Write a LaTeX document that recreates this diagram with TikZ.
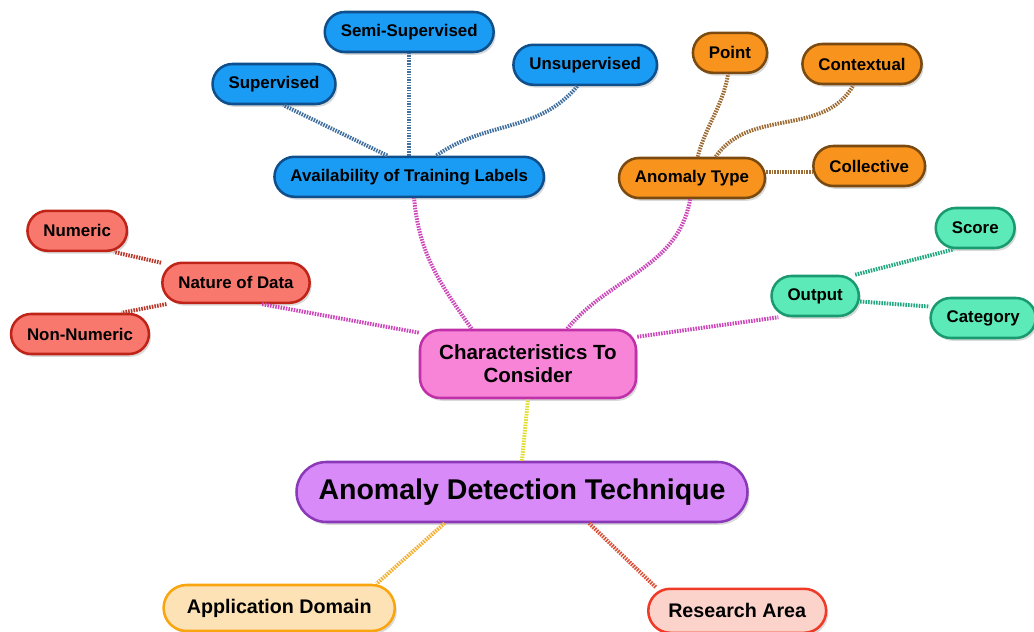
\documentclass[tikz,border=0pt]{standalone}
\usepackage{fontspec}
\setmainfont{Liberation Sans}
\usepackage{xcolor}
\usepackage{tikz}
\usetikzlibrary{shadows}

\definecolor{bluefill}{HTML}{1A9CF5}
\definecolor{blueline}{HTML}{0E4F8C}
\definecolor{bluelink}{HTML}{41709F}
\definecolor{orangefill}{HTML}{F8941D}
\definecolor{orangeline}{HTML}{7A4A10}
\definecolor{orangelink}{HTML}{9C6C34}
\definecolor{redfill}{HTML}{F8786E}
\definecolor{redline}{HTML}{C02418}
\definecolor{redlink}{HTML}{B8382A}
\definecolor{tealfill}{HTML}{5CEAB8}
\definecolor{tealline}{HTML}{1A9A70}
\definecolor{teallink}{HTML}{22A880}
\definecolor{pinkfill}{HTML}{F884D8}
\definecolor{pinkline}{HTML}{C030A8}
\definecolor{pinklink}{HTML}{CC48BA}
\definecolor{purplefill}{HTML}{D78AF8}
\definecolor{purpleline}{HTML}{8A3AB8}
\definecolor{appfill}{HTML}{FDE2B5}
\definecolor{appline}{HTML}{F8A510}
\definecolor{applink}{HTML}{F4B030}
\definecolor{resfill}{HTML}{FCD3CB}
\definecolor{resline}{HTML}{F03A28}
\definecolor{reslink}{HTML}{DC5038}
\definecolor{yellowlink}{HTML}{E2DC2A}

\begin{document}
\begin{tikzpicture}[font=\bfseries\fontsize{12}{14}\selectfont,
  pill/.style={draw, line width=1.8pt, rounded corners=0.5cm, minimum height=1cm,
    inner xsep=0.4cm, drop shadow={shadow xshift=0.05cm, shadow yshift=-0.07cm, opacity=0.3}},
  bluebox/.style={pill, fill=bluefill, draw=blueline},
  orangebox/.style={pill, fill=orangefill, draw=orangeline},
  redbox/.style={pill, fill=redfill, draw=redline},
  tealbox/.style={pill, fill=tealfill, draw=tealline},
  link/.style={line width=2.8pt, dash pattern=on 1.1pt off 0.8pt}]
\useasboundingbox (0,0) rectangle (25.85,15.8);
% main topic
\node[pill, fill=purplefill, draw=purpleline, rounded corners=0.75cm, minimum height=1.5cm,
  inner xsep=0.55cm, font=\bfseries\fontsize{20.3}{24}\selectfont] (adt) at (13.05,3.5) {Anomaly Detection Technique};
\node[pill, fill=pinkfill, draw=pinkline, minimum height=1.7cm, minimum width=5.4cm, align=center,
  font=\bfseries\fontsize{14.6}{16.5}\selectfont] (charac) at (13.2,6.7) {Characteristics To\\Consider};
\node[pill, fill=appfill, draw=appline, rounded corners=0.575cm, minimum height=1.15cm, inner xsep=0.58cm,
  font=\bfseries\fontsize{14}{16}\selectfont] (appdom) at (6.98,0.6) {Application Domain};
\node[pill, fill=resfill, draw=resline, rounded corners=0.55cm, minimum height=1.1cm, inner xsep=0.5cm,
  font=\bfseries\fontsize{14}{16}\selectfont] (research) at (18.43,0.53) {Research Area};
% training labels
\node[bluebox] (avail) at (10.23,11.38) {Availability of Training Labels};
\node[bluebox] (semi) at (10.23,15.0) {Semi-Supervised};
\node[bluebox] (sup) at (6.85,13.7) {Supervised};
\node[bluebox] (unsup) at (14.63,14.18) {Unsupervised};
% anomaly type
\node[orangebox] (atype) at (17.3,11.35) {Anomaly Type};
\node[orangebox] (point) at (18.25,14.48) {Point};
\node[orangebox] (context) at (21.55,14.2) {Contextual};
\node[orangebox] (collect) at (21.73,11.65) {Collective};
% nature of data
\node[redbox] (nature) at (5.9,8.73) {Nature of Data};
\node[redbox] (numeric) at (1.93,10.03) {Numeric};
\node[redbox] (nonnum) at (2.0,7.45) {Non-Numeric};
% output
\node[tealbox] (output) at (20.38,8.4) {Output};
\node[tealbox] (score) at (24.38,10.1) {Score};
\node[tealbox] (category) at (24.58,7.85) {Category};

\draw[link, yellowlink] (adt.north) -- (charac.south);
\draw[link, applink] (adt.-158) -- (appdom.14);
\draw[link, reslink] (adt.-25) -- (research.164);
\draw[link, pinklink] (charac.148) to[out=125, in=-85] (avail.-77);
\draw[link, pinklink] (charac.42) to[out=50, in=-100] (atype.-95);
\draw[link, pinklink] (charac.164) -- (nature.-40);
\draw[link, pinklink] (charac.14) -- (output.210);
\draw[link, bluelink] (avail.136) -- (sup.-66);
\draw[link, bluelink] (avail.north) -- (semi.south);
\draw[link, bluelink] (avail.38) to[out=35, in=-130] (unsup.-110);
\draw[link, orangelink] (atype.75) to[out=75, in=-100] (point.-95);
\draw[link, orangelink] (atype.42) to[out=55, in=-120] (context.-112);
\draw[link, orangelink] ([yshift=0.15cm]atype.east) -- ([yshift=-0.15cm]collect.west);
\draw[link, redlink] (nature.165) -- (numeric.-30);
\draw[link, redlink] (nature.197) -- (nonnum.27);
\draw[link, teallink] (output.28) -- (score.225);
\draw[link, teallink] (output.-7) -- (category.168);
\end{tikzpicture}
\end{document}
